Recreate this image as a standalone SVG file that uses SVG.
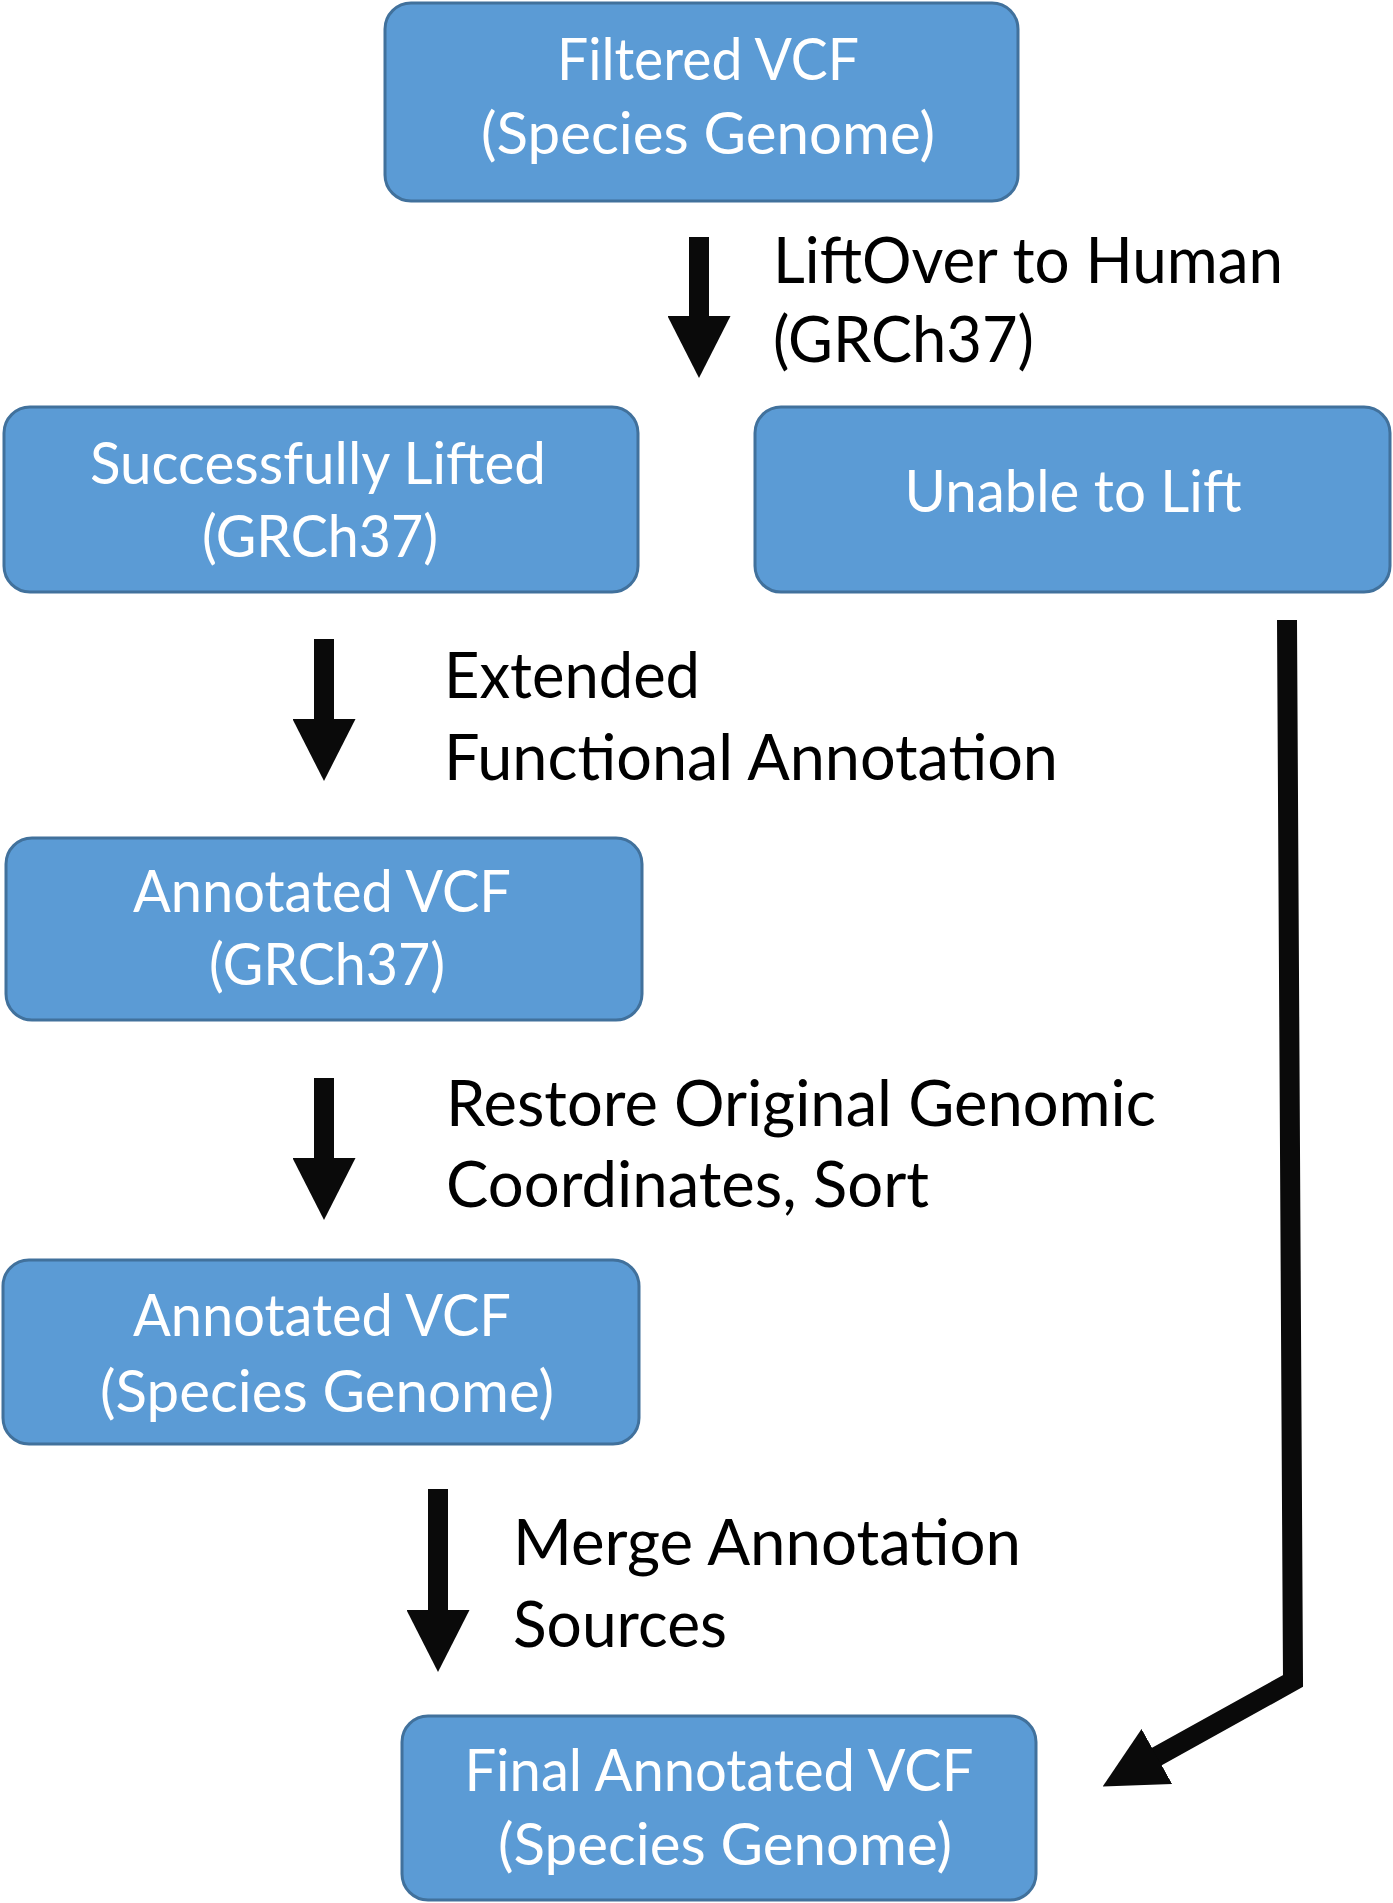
<svg xmlns="http://www.w3.org/2000/svg" width="1393" height="1903" viewBox="0 0 1393 1903">
<style>
.box{fill:#5B9BD5;stroke:#41719C;stroke-width:3}
.bt{font-family:Lato,"Open Sans",sans-serif;font-size:58px;fill:#ffffff;text-anchor:middle}
.lt{font-family:Lato,"Open Sans",sans-serif;font-size:63px;fill:#000000}
.conn{fill:none;stroke:#0a0a0a;stroke-width:20;stroke-linejoin:miter;marker-end:url(#head)}
</style>
<defs>
<marker id="head" markerUnits="userSpaceOnUse" markerWidth="62" markerHeight="63" refX="1" refY="31.5" orient="auto" viewBox="0 0 62 63">
<path d="M0,0 L62,31.5 L0,63 Z" fill="#0a0a0a"/>
</marker>
</defs>
<rect width="1393" height="1903" fill="#ffffff"/>
<g id="connectors">
<line class="conn" x1="699" y1="237" x2="699" y2="317"/>
<line class="conn" x1="324" y1="639" x2="324" y2="720"/>
<line class="conn" x1="324" y1="1078" x2="324" y2="1159"/>
<line class="conn" x1="438" y1="1489" x2="438" y2="1611"/>
<polyline class="conn" points="1287,620 1293,1681 1156,1757"/>
</g>
<g id="labels">
<text class="lt" x="773" y="283" textLength="510" lengthAdjust="spacingAndGlyphs">LiftOver to Human</text>
<text class="lt" x="773" y="362" textLength="261" lengthAdjust="spacingAndGlyphs">(GRCh37)</text>
<text class="lt" x="444" y="698" textLength="256" lengthAdjust="spacingAndGlyphs">Extended</text>
<text class="lt" x="444" y="780" textLength="614" lengthAdjust="spacingAndGlyphs">Functional Annotation</text>
<text class="lt" x="446" y="1126" textLength="710" lengthAdjust="spacingAndGlyphs">Restore Original Genomic</text>
<text class="lt" x="446" y="1207" textLength="483" lengthAdjust="spacingAndGlyphs">Coordinates, Sort</text>
<text class="lt" x="513" y="1565" textLength="508" lengthAdjust="spacingAndGlyphs">Merge Annotation</text>
<text class="lt" x="513" y="1647" textLength="214" lengthAdjust="spacingAndGlyphs">Sources</text>
</g>
<g id="n1">
<rect class="box" x="385" y="3" width="633" height="198" rx="26"/>
<text class="bt" x="708" y="80" textLength="302" lengthAdjust="spacingAndGlyphs">Filtered VCF</text>
<text class="bt" x="708" y="154" textLength="454" lengthAdjust="spacingAndGlyphs">(Species Genome)</text>
</g>
<g id="n2">
<rect class="box" x="4" y="407" width="634" height="185" rx="26"/>
<text class="bt" x="318" y="484" textLength="456" lengthAdjust="spacingAndGlyphs">Successfully Lifted</text>
<text class="bt" x="320" y="557" textLength="236" lengthAdjust="spacingAndGlyphs">(GRCh37)</text>
</g>
<g id="n3">
<rect class="box" x="755" y="407" width="635" height="185" rx="26"/>
<text class="bt" x="1073" y="512" textLength="337" lengthAdjust="spacingAndGlyphs">Unable to Lift</text>
</g>
<g id="n4">
<rect class="box" x="6" y="838" width="636" height="182" rx="26"/>
<text class="bt" x="322" y="912" textLength="378" lengthAdjust="spacingAndGlyphs">Annotated VCF</text>
<text class="bt" x="327" y="985" textLength="236" lengthAdjust="spacingAndGlyphs">(GRCh37)</text>
</g>
<g id="n5">
<rect class="box" x="3" y="1260" width="636" height="184" rx="26"/>
<text class="bt" x="322" y="1336" textLength="378" lengthAdjust="spacingAndGlyphs">Annotated VCF</text>
<text class="bt" x="327" y="1412" textLength="454" lengthAdjust="spacingAndGlyphs">(Species Genome)</text>
</g>
<g id="n6">
<rect class="box" x="402" y="1716" width="634" height="184" rx="26"/>
<text class="bt" x="719" y="1791" textLength="509" lengthAdjust="spacingAndGlyphs">Final Annotated VCF</text>
<text class="bt" x="725" y="1865" textLength="454" lengthAdjust="spacingAndGlyphs">(Species Genome)</text>
</g>
</svg>
